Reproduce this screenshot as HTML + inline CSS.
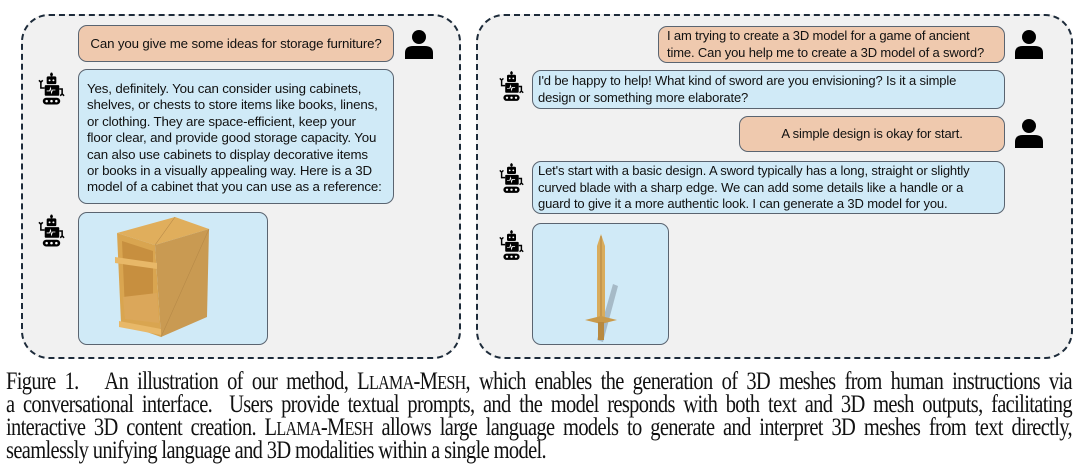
<!DOCTYPE html>
<html><head><meta charset="utf-8"><style>
*{margin:0;padding:0;box-sizing:border-box}
body{width:1080px;height:468px;background:#fff;position:relative;overflow:hidden;font-family:"Liberation Sans","DejaVu Sans",sans-serif}
.panel{position:absolute;border:2.5px dashed #1d2b3a;border-radius:28px;background:#f1f1f1}
.b{position:absolute;border:1.2px solid #5a6470;border-radius:9px;font-size:13px;line-height:16.5px;color:#111;padding:0 8px;white-space:nowrap;letter-spacing:-0.15px}
.u{background:#efc9ae}
.r{background:#d0eaf7}
.ic{position:absolute}
.cap{position:absolute;left:6px;top:370px;font-family:"Liberation Serif",serif;font-size:25px;letter-spacing:-0.8px;line-height:23px;color:#111}
.cap div{width:1300px;transform:scaleX(0.82);transform-origin:0 0;text-align:justify;text-align-last:justify;white-space:nowrap;height:23px}
.cap div.last{text-align-last:left}
.sc{font-size:19.5px}
</style></head><body>
<svg width="0" height="0" style="position:absolute"><defs>
<symbol id="user" viewBox="0 0 30 30"><circle cx="15" cy="8" r="7" fill="#000"/><path d="M1 30 V24 Q1 17 9 17 H21 Q29 17 29 24 V30Z" fill="#000"/></symbol>
<symbol id="bot" viewBox="0 0 30 34"><line x1="15" y1="0" x2="15" y2="4" stroke="#000" stroke-width="1.5"/><circle cx="15" cy="2" r="1.5" fill="#000"/><rect x="10" y="4" width="10" height="8" rx="1.5" fill="#000"/><circle cx="13" cy="8" r="1" fill="#fff"/><circle cx="17" cy="8" r="1" fill="#fff"/><rect x="8" y="13" width="15" height="11" rx="1" fill="#000"/><path d="M10 19 h3 l1 -3 l1 5 l1 -3 h3" stroke="#fff" fill="none" stroke-width="0.8"/><path d="M8 16 H4 V9 M2 8 L4 10 L6 8" stroke="#000" stroke-width="1.6" fill="none"/><path d="M23 17 H26 V23 M24 24 L26 22 L28 24" stroke="#000" stroke-width="1.6" fill="none"/><rect x="6" y="26" width="18" height="7" rx="3.5" fill="#000"/><circle cx="10" cy="29.5" r="1.3" fill="#fff"/><circle cx="15" cy="29.5" r="1.3" fill="#fff"/><circle cx="20" cy="29.5" r="1.3" fill="#fff"/></symbol>
</defs></svg>

<div class="panel" style="left:21px;top:14px;width:440px;height:345px"></div>
<div class="panel" style="left:476px;top:14px;width:597px;height:345px"></div>

<!-- left -->
<div class="b u" style="left:78px;top:25px;width:316px;height:37px;line-height:35px;text-align:center;font-size:13.3px">Can you give me some ideas for storage furniture?</div>
<svg class="ic" style="left:404px;top:29px" width="30" height="30"><use href="#user"/></svg>
<svg class="ic" style="left:37px;top:72px" width="29" height="34"><use href="#bot"/></svg>
<div class="b r" style="left:78px;top:69px;width:316px;height:135px;padding-top:11px;font-size:13.3px;line-height:16.4px">Yes, definitely. You can consider using cabinets,<br>shelves, or chests to store items like books, linens,<br>or clothing. They are space-efficient, keep your<br>floor clear, and provide good storage capacity. You<br>can also use cabinets to display decorative items<br>or books in a visually appealing way. Here is a 3D<br>model of a cabinet that you can use as a reference:</div>
<svg class="ic" style="left:37px;top:214px" width="29" height="34"><use href="#bot"/></svg>
<div class="b r" style="left:78px;top:212px;width:190px;height:133px;padding:0">
<svg width="188" height="131" style="position:absolute;left:0;top:0">
<polygon points="38,20 96,4 130,16 76,32" fill="#e0ae5c"/>
<polygon points="76,32 130,16 128,104 82,124" fill="#c99a52"/>
<polygon points="38,20 76,32 82,124 42,110" fill="#d9a550"/>
<polygon points="43,28 74,38 74,104 46,98" fill="#c78f3f"/>
<polygon points="44,84 78,80 80,110 46,106" fill="#dba75a"/>
<polygon points="36,44 78,50 78,56 36,50" fill="#e8b868"/>
<polygon points="40,108 82,116 82,122 40,114" fill="#e8b868"/>
<line x1="96" y1="4" x2="76" y2="32" stroke="#b78a48" stroke-width="0.6"/>
<line x1="130" y1="16" x2="82" y2="124" stroke="#b78a48" stroke-width="0.6"/>
</svg></div>

<!-- right -->
<div class="b u" style="left:658px;top:26px;width:347px;height:37px;padding-top:1px">I am trying to create a 3D model for a game of ancient<br>time. Can you help me to create a 3D model of a sword?</div>
<svg class="ic" style="left:1014px;top:29px" width="30" height="30"><use href="#user"/></svg>
<svg class="ic" style="left:498px;top:70px" width="27" height="33"><use href="#bot"/></svg>
<div class="b r" style="left:532px;top:70px;width:473px;height:39px;padding-top:2px;padding-left:5px">I'd be happy to help! What kind of sword are you envisioning? Is it a simple<br>design or something more elaborate?</div>
<div class="b u" style="left:739px;top:116px;width:266px;height:36px;line-height:34px;text-align:center">A simple design is okay for start.</div>
<svg class="ic" style="left:1014px;top:118px" width="30" height="30"><use href="#user"/></svg>
<svg class="ic" style="left:498px;top:162px" width="27" height="33"><use href="#bot"/></svg>
<div class="b r" style="left:532px;top:161px;width:473px;height:53px;padding-top:1px;padding-left:5px">Let's start with a basic design. A sword typically has a long, straight or slightly<br>curved blade with a sharp edge. We can add some details like a handle or a<br>guard to give it a more authentic look. I can generate a 3D model for you.</div>
<svg class="ic" style="left:498px;top:229px" width="27" height="33"><use href="#bot"/></svg>
<div class="b r" style="left:532px;top:223px;width:137px;height:122px;padding:0">
<svg width="135" height="120" style="position:absolute;left:0;top:0">
<polygon points="80,60 85,62 70,118 64,116" fill="#8a9aa6" opacity="0.6"/>
<polygon points="68,10 72,22 72,94 64,94 64,22" fill="#d9ac5c"/>
<line x1="68" y1="12" x2="68" y2="94" stroke="#a7793a" stroke-width="0.8"/>
<polygon points="52,96 68,92 84,96 68,100" fill="#c99a4a"/>
<rect x="65" y="98" width="6" height="18" fill="#b8893f"/>
</svg></div>

<div class="cap">
<div>Figure 1.&nbsp;&nbsp; An illustration of our method, L<span class="sc">LAMA</span>-M<span class="sc">ESH</span>, which enables the generation of 3D meshes from human instructions via</div>
<div>a conversational interface.&nbsp; Users provide textual prompts, and the model responds with both text and 3D mesh outputs, facilitating</div>
<div>interactive 3D content creation. L<span class="sc">LAMA</span>-M<span class="sc">ESH</span> allows large language models to generate and interpret 3D meshes from text directly,</div>
<div class="last">seamlessly unifying language and 3D modalities within a single model.</div>
</div>
</body></html>
